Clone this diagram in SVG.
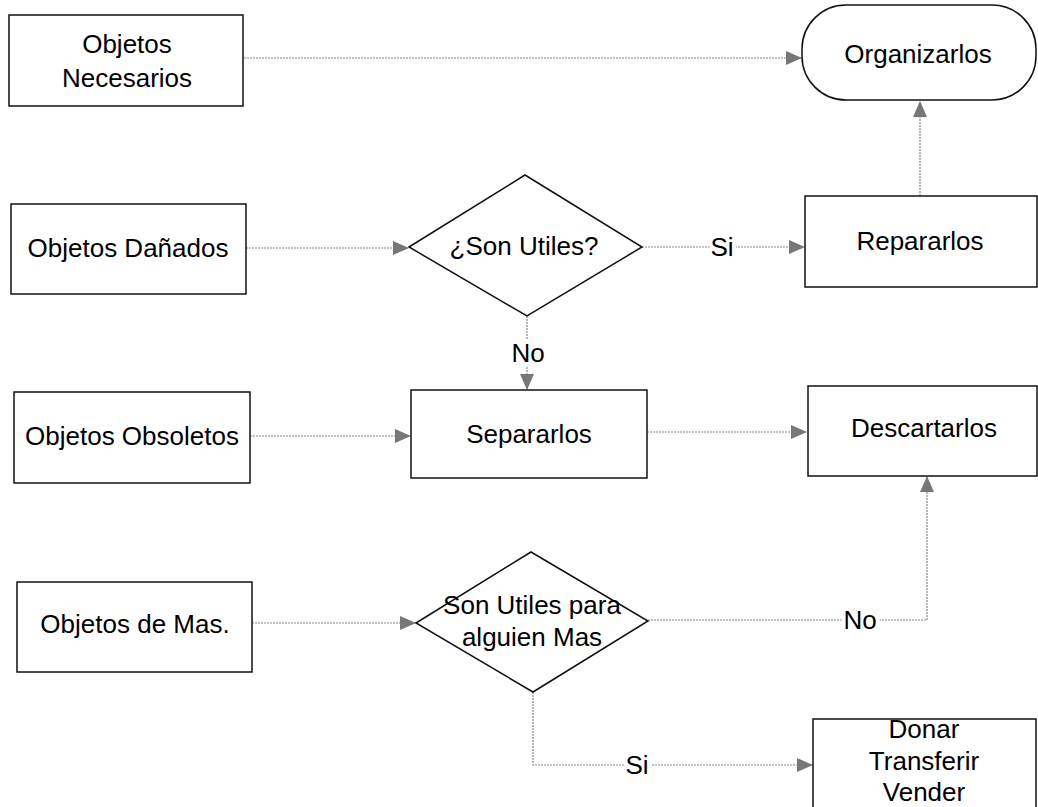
<svg xmlns="http://www.w3.org/2000/svg" width="1038" height="807" viewBox="0 0 1038 807">
<style>
.n{fill:#fff;stroke:#111;stroke-width:1.5}
.t{font-family:"Liberation Sans",Arial,sans-serif;font-size:26px;fill:#000;text-anchor:middle}
.c{fill:none;stroke:#888;stroke-width:1.2;stroke-dasharray:2 1}
.l{font-family:"Liberation Sans",Arial,sans-serif;font-size:26px;fill:#000;text-anchor:middle;stroke:#fff;stroke-width:8;paint-order:stroke}
</style>
<defs>
<marker id="a" markerWidth="16" markerHeight="14" refX="15" refY="7" orient="auto" markerUnits="userSpaceOnUse">
<path d="M0,0 L16,7 L0,14 Z" fill="#777"/>
</marker>
</defs>
<rect width="1038" height="807" fill="#fff"/>
<g id="connectors">
<path class="c" d="M244,58 H801" marker-end="url(#a)"/>
<path class="c" d="M920,196 V102" marker-end="url(#a)"/>
<path class="c" d="M246,248 H408" marker-end="url(#a)"/>
<path class="c" d="M642,247 H804" marker-end="url(#a)"/>
<path class="c" d="M527,316 V389" marker-end="url(#a)"/>
<path class="c" d="M250,436 H410" marker-end="url(#a)"/>
<path class="c" d="M647,432 H806" marker-end="url(#a)"/>
<path class="c" d="M252,623 H415" marker-end="url(#a)"/>
<path class="c" d="M648,620 H927 V477" marker-end="url(#a)"/>
<path class="c" d="M533,692 V765 H812" marker-end="url(#a)"/>
<text class="l" x="722" y="256">Si</text>
<text class="l" x="528" y="362">No</text>
<text class="l" x="860" y="629">No</text>
<text class="l" x="637" y="774">Si</text>
</g>
<g id="n1"><rect class="n" x="9" y="15" width="234" height="91"/><text class="t" x="127" y="53">Objetos</text><text class="t" x="127" y="87">Necesarios</text></g>
<g id="n2"><rect class="n" x="802" y="5" width="234" height="95" rx="44" ry="44"/><text class="t" x="918" y="63">Organizarlos</text></g>
<g id="n3"><rect class="n" x="11" y="204" width="235" height="90"/><text class="t" x="128" y="257">Objetos Dañados</text></g>
<g id="n4"><path class="n" d="M409,247 L525,175 L642,247 L527,316 Z"/><text class="t" x="524" y="255">¿Son Utiles?</text></g>
<g id="n5"><rect class="n" x="805" y="196" width="232" height="91"/><text class="t" x="920" y="250">Repararlos</text></g>
<g id="n6"><rect class="n" x="14" y="392" width="236" height="91"/><text class="t" x="132" y="445">Objetos Obsoletos</text></g>
<g id="n7"><rect class="n" x="411" y="390" width="236" height="88"/><text class="t" x="529" y="443">Separarlos</text></g>
<g id="n8"><rect class="n" x="808" y="386" width="229" height="90"/><text class="t" x="924" y="437">Descartarlos</text></g>
<g id="n9"><rect class="n" x="17" y="582" width="235" height="90"/><text class="t" x="135" y="633">Objetos de Mas.</text></g>
<g id="n10"><path class="n" d="M416,623 L531,552 L648,621 L533,692 Z"/><text class="t" x="532" y="614">Son Utiles para</text><text class="t" x="532" y="646">alguien Mas</text></g>
<g id="n11"><rect class="n" x="813" y="719" width="223" height="95"/><text class="t" x="924" y="738">Donar</text><text class="t" x="924" y="770">Transferir</text><text class="t" x="924" y="801">Vender</text></g>
</svg>
